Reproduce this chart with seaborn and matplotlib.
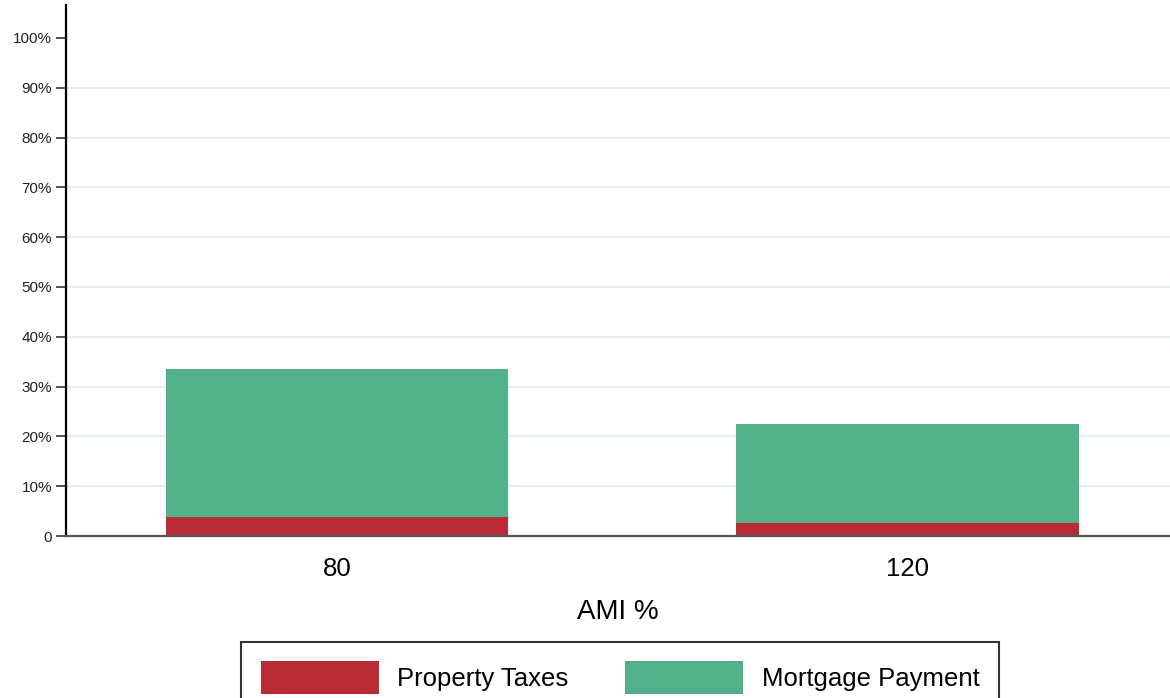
import pandas as pd
import matplotlib.pyplot as plt
import seaborn as sns
from matplotlib.ticker import FuncFormatter
from matplotlib.patches import Patch

# data (percent of income)
ami = ["80", "120"]
property_taxes = [3.9, 2.55]
mortgage_payment = [29.6, 19.85]

red = "#b82b34"
green = "#52b08b"

sns.set_style("white")
plt.rcParams['font.family'] = ['Liberation Sans', 'DejaVu Sans']

df = pd.DataFrame({"ami": ami, "tax": property_taxes, "mortgage": mortgage_payment})
df["total"] = df["tax"] + df["mortgage"]

fig = plt.figure(figsize=(11.7, 6.98), dpi=100)
ax = fig.add_axes([66 / 1170, 162 / 698, 1 - 66 / 1170, (536 - 5) / 698])

# stacked bars: total (green) first, then taxes (red) over the bottom part
sns.barplot(data=df, x="ami", y="total", order=ami, color=green, width=0.6,
            saturation=1, ax=ax, linewidth=0)
sns.barplot(data=df, x="ami", y="tax", order=ami, color=red, width=0.6,
            saturation=1, ax=ax, linewidth=0)

ax.set_ylim(0, 106.6)
ax.set_xlim(-0.475, 1.46)
ax.set_yticks(range(0, 101, 10))
ax.yaxis.set_major_formatter(FuncFormatter(lambda v, p: "0" if v == 0 else f"{v:.0f}%"))

# faint grid lines, none at 0 or 100
ax.yaxis.grid(True, color="#e6eef1", linewidth=1.5)
ax.set_axisbelow(True)
gl = ax.yaxis.get_gridlines()
gl[0].set_visible(False)
gl[-1].set_visible(False)

ax.tick_params(axis="y", direction="out", length=7, width=1.3, color="#444444",
               labelsize=11, labelcolor="#222222", pad=3, left=True)
ax.tick_params(axis="x", length=0, labelsize=18.5, pad=15, labelcolor="black")

for s in ["top", "right"]:
    ax.spines[s].set_visible(False)
ax.spines["left"].set_color("black")
ax.spines["left"].set_linewidth(1.6)
ax.spines["bottom"].set_color("#555555")
ax.spines["bottom"].set_linewidth(1.6)

ax.set_xlabel("AMI %", fontsize=20, labelpad=13, color="black")
ax.set_ylabel("")

handles = [Patch(facecolor=red, edgecolor="none", label="Property Taxes"),
           Patch(facecolor=green, edgecolor="none", label="Mortgage Payment")]
leg = fig.legend(handles=handles, loc="upper center", bbox_to_anchor=(620 / 1170, 1 - 642 / 698),
                 ncol=2, fontsize=18.5, frameon=True, fancybox=False, handlelength=4.6,
                 handleheight=1.6, handletextpad=0.72, columnspacing=2.2, borderpad=0.75,
                 borderaxespad=0)
leg.get_frame().set_edgecolor("black")
leg.get_frame().set_linewidth(1.5)
for t in leg.get_texts():
    t.set_color("black")

fig.savefig("out.png", dpi=100)
